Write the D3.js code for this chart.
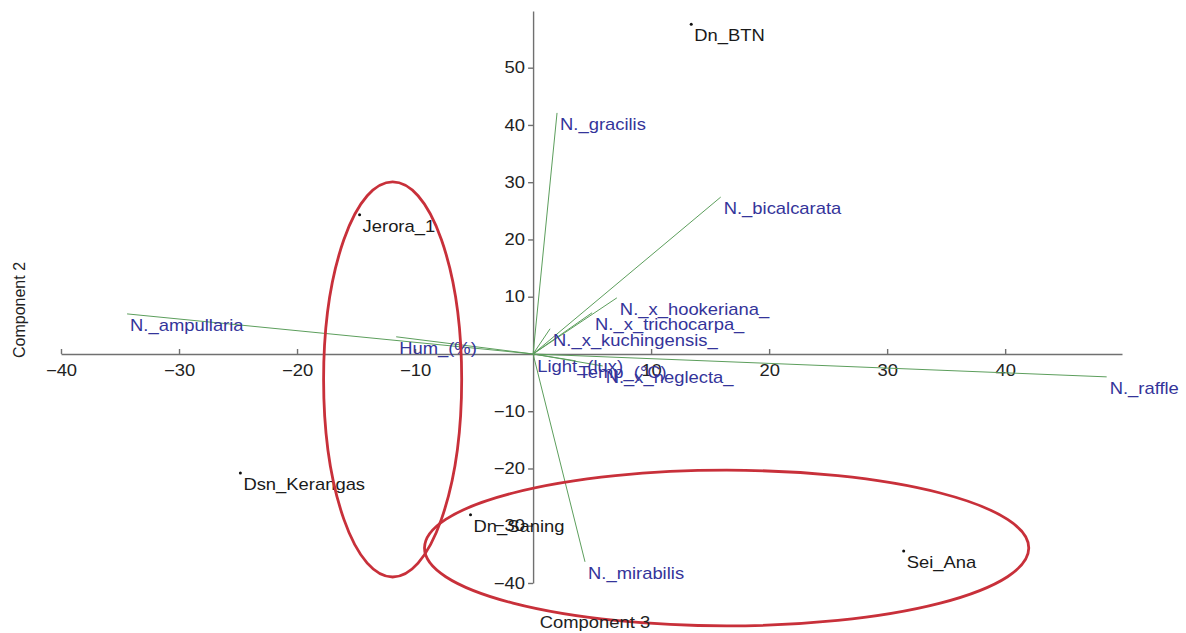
<!DOCTYPE html>
<meta charset="utf-8">
<style>
body { margin: 0; background: #fff; }
text { font-family: "Liberation Sans", Arial, sans-serif; font-size: 16px; }
.axis path, .axis line { stroke: #707070; stroke-width: 1.4px; }
.axis text { fill: #222; font-size: 16px; }
.vec { stroke: #5c9e5c; stroke-width: 1px; fill: none; }
.vlabel { fill: #34349a; }
.plabel { fill: #1a1a1a; }
.ring { fill: none; stroke: #c8303a; stroke-width: 2.8px; }
</style>
<body>
<script src="https://cdnjs.cloudflare.com/ajax/libs/d3/7.8.5/d3.min.js"></script>
<script>
// site scores (component 3 vs component 2)
var siteNames = ["Dn_BTN", "Jerora_1", "Dsn_Kerangas", "Dn_Saning", "Sei_Ana"];
var siteX = [13.4, -14.7, -24.8, -5.3, 31.4];
var siteY = [57.6, 24.3, -20.8, -28.1, -34.4];

// loadings (biplot vectors)
var varNames = ["N._gracilis", "N._bicalcarata", "N._x_hookeriana_", "N._x_trichocarpa_",
  "N._x_kuchingensis_", "N._ampullaria", "Hum_(%)", "Light_(lux)", "Temp_(°C)",
  "N._x_neglecta_", "N._raffle", "N._mirabilis"];
var varX = [2.03, 15.9, 7.1, 5.0, 1.44, -34.4, -11.6, 0.1, 3.6, 5.9, 48.6, 4.4];
var varY = [42.1, 27.4, 9.8, 7.2, 4.4, 7.0, 3.0, -0.2, -1.2, -2.1, -4.0, -36.3];

// tick labels
var xTicks = [-40, -30, -20, -10, 10, 20, 30, 40];
var yTicks = [-40, -30, -20, -10, 10, 20, 30, 40, 50];

// hand drawn groupings (centre x, centre y, radius x, radius y)
var ringCx = [-11.9, 16.4];
var ringCy = [-4.45, -33.9];
var ringRx = [5.85, 25.6];
var ringRy = [34.5, 13.6];

var width = 1186, height = 633;
var stretch = 1.15; // the picture's text is a little wide

var x = d3.scaleLinear().domain([-40, 49.9]).range([61, 1122]);
var y = d3.scaleLinear().domain([-40, 59.9]).range([583, 11]);

var svg = d3.select("body").append("svg")
  .attr("width", width)
  .attr("height", height);

// axes cross at the origin
var xAxis = svg.append("g")
  .attr("class", "axis")
  .attr("transform", "translate(0," + y(0) + ")")
  .call(d3.axisBottom(x).tickValues(xTicks).tickSize(-5).tickSizeOuter(0).tickPadding(11));
xAxis.selectAll("text").attr("transform", "scale(" + stretch + ",1)");

var yAxis = svg.append("g")
  .attr("class", "axis")
  .attr("transform", "translate(" + x(0) + ",0)")
  .call(d3.axisLeft(y).tickValues(yTicks).tickSize(5).tickSizeOuter(0).tickPadding(2));
yAxis.selectAll("text").attr("transform", "scale(" + stretch + ",1)");

// vectors
var vars = varNames.map(function(n, i) { return {name: n, x: varX[i], y: varY[i]}; });

svg.selectAll("line.vec")
  .data(vars)
  .enter().append("line")
  .attr("class", "vec")
  .attr("x1", x(0)).attr("y1", y(0))
  .attr("x2", function(d) { return x(d.x); })
  .attr("y2", function(d) { return y(d.y); });

svg.selectAll("text.vlabel")
  .data(vars)
  .enter().append("text")
  .attr("class", "vlabel")
  .attr("transform", function(d) {
    return "translate(" + (x(d.x) + 3) + "," + (y(d.y) + 17) + ") scale(" + stretch + ",1)";
  })
  .text(function(d) { return d.name; });

// sites
var sites = siteNames.map(function(n, i) { return {name: n, x: siteX[i], y: siteY[i]}; });

svg.selectAll("circle.site")
  .data(sites)
  .enter().append("circle")
  .attr("class", "site")
  .attr("r", 1.5)
  .attr("fill", "#111")
  .attr("cx", function(d) { return x(d.x); })
  .attr("cy", function(d) { return y(d.y); });

svg.selectAll("text.plabel")
  .data(sites)
  .enter().append("text")
  .attr("class", "plabel")
  .attr("transform", function(d) {
    return "translate(" + (x(d.x) + 3) + "," + (y(d.y) + 17) + ") scale(" + stretch + ",1)";
  })
  .text(function(d) { return d.name; });

// red rings
svg.selectAll("ellipse.ring")
  .data(ringCx)
  .enter().append("ellipse")
  .attr("class", "ring")
  .attr("cx", function(d) { return x(d); })
  .attr("cy", function(d, i) { return y(ringCy[i]); })
  .attr("rx", function(d, i) { return x(d + ringRx[i]) - x(d); })
  .attr("ry", function(d, i) { return y(ringCy[i] - ringRy[i]) - y(ringCy[i]); });

// axis titles
svg.append("text")
  .attr("transform", "translate(595,628) scale(" + stretch + ",1)")
  .attr("text-anchor", "middle")
  .attr("fill", "#222")
  .text("Component 3");

svg.append("text")
  .attr("transform", "translate(25,310) rotate(-90)")
  .attr("text-anchor", "middle")
  .attr("fill", "#222")
  .text("Component 2");
</script>
</body>
